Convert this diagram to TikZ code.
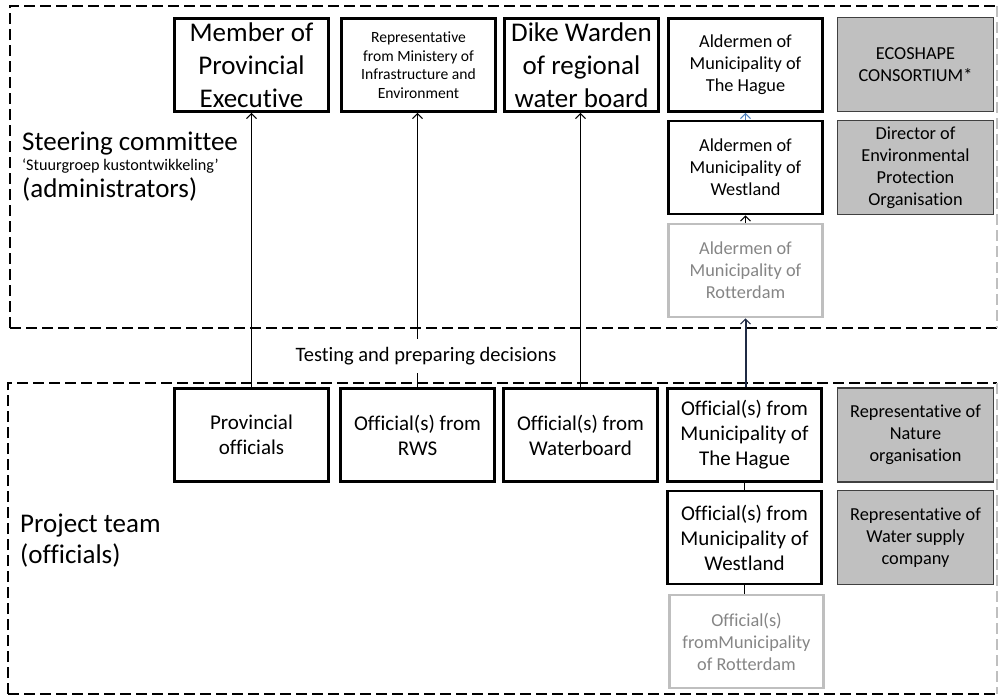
\documentclass[tikz,border=0pt]{standalone}
\usepackage{fontspec}
\setmainfont{Carlito}[Ligatures=NoCommon]
\usetikzlibrary{arrows.meta}

\definecolor{panelgrey}{HTML}{C0C0C0}
\definecolor{paleedge}{HTML}{BFBFBF}
\definecolor{paletext}{HTML}{858585}
\definecolor{linkblue}{HTML}{4F81BD}
\definecolor{linknavy}{HTML}{1F2A44}

\newcommand{\fsHuge}{\fontsize{27}{33}\selectfont}
\newcommand{\fsBig}{\fontsize{21}{25}\selectfont}
\newcommand{\fsMid}{\fontsize{18.3}{22}\selectfont}
\newcommand{\fsSmall}{\fontsize{15.6}{18.5}\selectfont}

\tikzset{
  x=1pt, y=-1pt,
  unit/.style={draw, line width=2.6pt, align=center, inner sep=0pt,
    minimum width=154pt, minimum height=93pt},
  partner/.style={draw=black!75, line width=1.4pt, fill=panelgrey, align=center,
    inner sep=0pt, minimum width=156pt, minimum height=94pt},
  pending/.style={draw=paleedge, line width=2.6pt, text=paletext, align=center,
    inner sep=0pt, minimum width=154pt, minimum height=93pt},
  frame/.style={line width=2.8pt, dash pattern=on 11pt off 5pt},
  thinframe/.style={line width=1.8pt, dash pattern=on 11pt off 5pt},
  sideframe/.style={draw=paleedge, line width=1.2pt, dash pattern=on 11pt off 5pt},
  link/.style={line width=1.1pt, -{Straight Barb[length=5pt,width=10pt,line width=1.1pt]}},
  heading/.style={anchor=base west, inner sep=0pt},
}

\begin{document}
\begin{tikzpicture}
\useasboundingbox (0,0) rectangle (998,697);

% frames of the two groups
\coordinate (sTL) at (10,6);   \coordinate (sBR) at (997,328);
\coordinate (pTL) at (8,383);  \coordinate (pBR) at (997,694);
\draw[frame] (sTL |- sBR) -- (sTL) -- (sBR |- sTL);
\draw[frame] (sTL |- sBR) -- (sBR);
\draw[sideframe] (sBR |- sTL) -- (sBR);
\draw[frame] (pTL |- pBR) -- (pTL) -- (pBR |- pTL);
\draw[thinframe] (pTL |- pBR) -- (pBR);
\draw[sideframe] (pBR |- pTL) -- (pBR);

% group headings
\node[heading, font=\fsHuge] (sc) at (22,150) {Steering committee};
\node[heading, font=\fontsize{16.2}{19}\selectfont] (scnl) at (22,170) {`Stuurgroep kustontwikkeling'};
\node[heading, font=\fsHuge] (scadm) at (22,197) {(administrators)};
\node[heading, font=\fsHuge] (pt) at (20,532) {Project team};
\node[heading, font=\fsHuge] (ptoff) at (20,563) {(officials)};

% steering committee members
\node[unit, font=\fsHuge] (mpe) at (251.5,65) {Member of\\ Provincial\\ Executive};
\node[unit, font=\fsSmall] (rep) at (418.5,65) {Representative\\ from Ministery of\\ Infrastructure and\\ Environment};
\node[unit, font=\fsHuge] (dike) at (581.5,65) {Dike Warden\\ of regional\\ water board};
\node[unit, font=\fsMid] (ahag) at (745.5,65) {Aldermen of\\ Municipality of\\ The Hague};
\node[unit, font=\fsMid] (awes) at (745.5,167.5) {Aldermen of\\ Municipality of\\ Westland};
\node[pending, font=\fsMid] (arot) at (745.5,270.5) {Aldermen of\\ Municipality of\\ Rotterdam};
\node[partner, font=\fsMid] (eco) at (915.5,64.5) {ECOSHAPE\\ CONSORTIUM*};
\node[partner, font=\fsMid] (dir) at (915.5,167.5) {Director of\\ Environmental\\ Protection\\ Organisation};

% project team members
\node[unit, font=\fsBig] (prov) at (251.5,435) {Provincial\\ officials};
\node[unit, font=\fsBig] (rws) at (417.5,435) {Official(s) from\\ RWS};
\node[unit, font=\fsBig] (wb) at (580.5,435) {Official(s) from\\ Waterboard};
\node[unit, font=\fsBig] (ohag) at (744.5,435) {Official(s) from\\ Municipality of\\ The Hague};
\node[unit, font=\fsBig] (owes) at (744.5,537.5) {Official(s) from\\ Municipality of\\ Westland};
\node[pending, font=\fsMid] (orot) at (746.5,641.5) {Official(s)\\ fromMunicipality\\ of Rotterdam};
\node[partner, font=\fsMid] (nat) at (915.5,435) {Representative of\\ Nature\\ organisation};
\node[partner, font=\fsMid] (wat) at (915.5,537.5) {Representative of\\ Water supply\\ company};

% reporting lines from officials to administrators
\draw[link] (prov.north) -- (prov.north |- mpe.south);
\draw[link] (rws.north) -- (rws.north |- rep.south);
\draw[link] (wb.north) -- (wb.north |- dike.south);
\draw[link, draw=linknavy, line width=2pt] (ohag.north -| arot.south) -- (arot.south);
\draw[link] (arot.north) -- (awes.south);
\draw[link, draw=linkblue] (awes.north) -- (ahag.south);
\draw[line width=1.1pt] (ohag.south) -- (owes.north);
\draw[line width=1.1pt] (owes.south) -- (owes.south |- orot.north);

\node[fill=white, inner xsep=3pt, inner ysep=8pt, font=\fontsize{20.5}{24}\selectfont] (tpd) at (426,356)
  {Testing and preparing decisions};
\end{tikzpicture}
\end{document}
